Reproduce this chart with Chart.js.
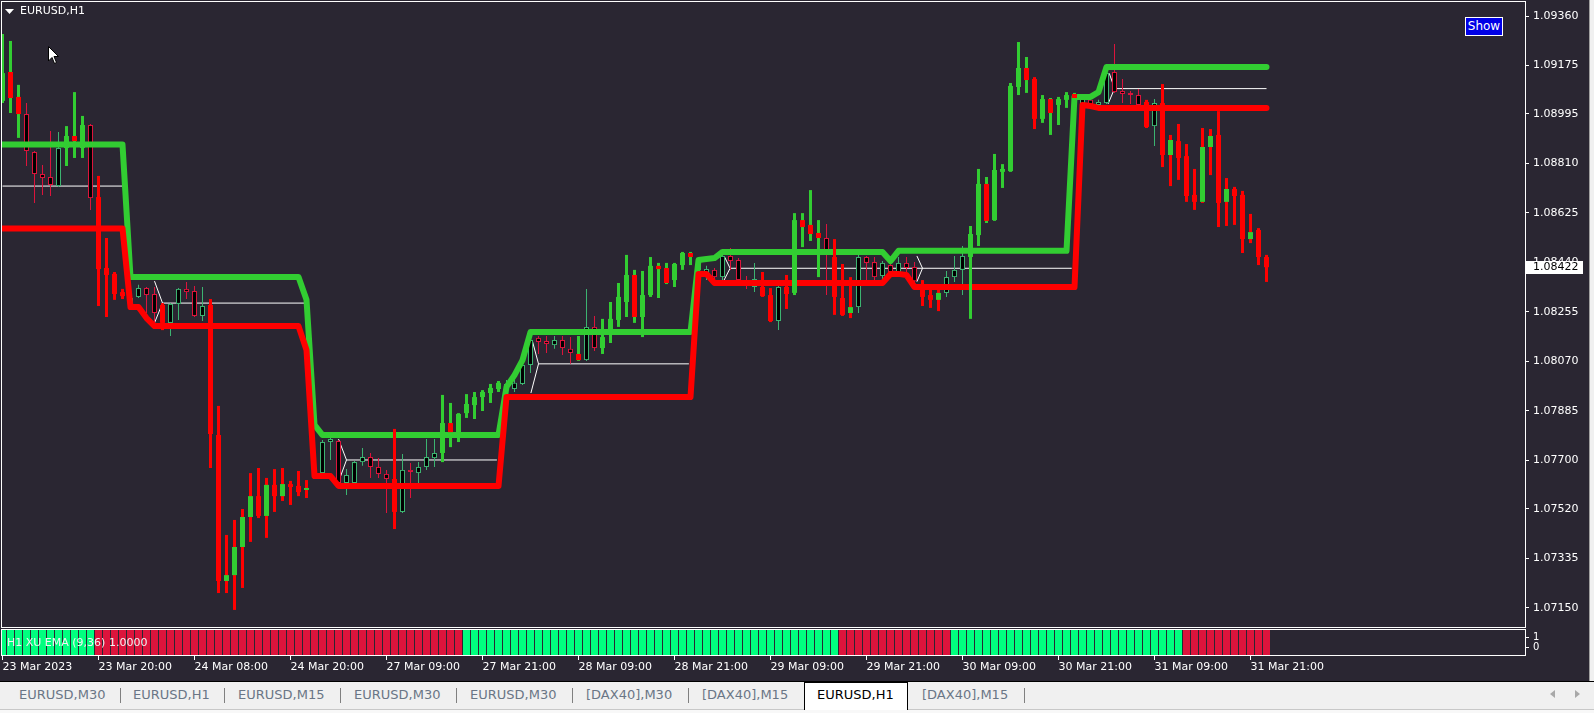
<!DOCTYPE html>
<html><head><meta charset="utf-8">
<script src="https://cdn.jsdelivr.net/npm/chart.js@4.4.1/dist/chart.umd.min.js"></script>
<style>
html,body{margin:0;padding:0;}
body{width:1594px;height:713px;overflow:hidden;background:#f8f8f8;position:relative;font-family:'DejaVu Sans',sans-serif;}
canvas{position:absolute;left:0;}
#c1{top:0;width:1589px;height:629px;}
#c2{top:628px;width:1589px;height:54px;}
#title{position:absolute;left:20px;top:4px;color:#fff;font-size:11px;line-height:14px;}
#tri{position:absolute;left:5px;top:9px;}
#cursor{position:absolute;left:48px;top:46px;}
#show{position:absolute;left:1465px;top:17px;width:36px;height:17px;background:#0000e6;border:1px solid #fff;color:#fff;font-size:12px;line-height:17px;text-align:center;}
#rframe{position:absolute;left:1589px;top:0;width:4px;height:682px;border-left:1px solid #a0a0a0;background:#f0f0f0;}
#blk{position:absolute;left:0;top:681px;width:1594px;height:1px;background:#000;}
#tabs{position:absolute;left:0;top:682px;width:1594px;height:27px;background:#f0f0f0;border-bottom:1px solid #c8c8c8;}
.tab{position:absolute;top:5px;font-size:13px;line-height:16px;color:#6a7686;white-space:nowrap;}
.sep{position:absolute;top:6px;width:1px;height:15px;background:#808080;}
#active{position:absolute;left:804px;top:0;width:102px;height:27px;background:#fff;border:1px solid #000;border-bottom:none;}
.arr{position:absolute;top:8px;}
</style></head><body>
<canvas id="c1" width="1589" height="629"></canvas>
<canvas id="c2" width="1589" height="54"></canvas>
<svg id="tri" width="10" height="6"><polygon points="0,0 9,0 4.5,5" fill="#fff"/></svg>
<div id="title">EURUSD,H1</div>
<svg id="cursor" width="12" height="19"><path d="M0.5,0.5 L0.5,15 L4,11.5 L6.5,17.5 L8.5,16.5 L6,10.5 L10.5,10.5 Z" fill="#fff" stroke="#000" stroke-width="1"/></svg>
<div id="show">Show</div>
<div id="rframe"></div>
<div id="blk"></div>
<div id="tabs">
  <div id="active"></div>
  <div class="tab" style="left:19px">EURUSD,M30</div>
  <div class="sep" style="left:120px"></div>
  <div class="tab" style="left:133px">EURUSD,H1</div>
  <div class="sep" style="left:224px"></div>
  <div class="tab" style="left:238px">EURUSD,M15</div>
  <div class="sep" style="left:340px"></div>
  <div class="tab" style="left:354px">EURUSD,M30</div>
  <div class="sep" style="left:456px"></div>
  <div class="tab" style="left:470px">EURUSD,M30</div>
  <div class="sep" style="left:572px"></div>
  <div class="tab" style="left:586px">[DAX40],M30</div>
  <div class="sep" style="left:688px"></div>
  <div class="tab" style="left:702px">[DAX40],M15</div>
  <div class="tab" style="left:817px;color:#000">EURUSD,H1</div>
  <div class="tab" style="left:922px">[DAX40],M15</div>
  <div class="sep" style="left:1024px"></div>
  <svg class="arr" style="left:1550px" width="6" height="9"><polygon points="5,0 5,8 0,4" fill="#a8a8a8"/></svg>
  <svg class="arr" style="left:1575px" width="6" height="9"><polygon points="0,0 0,8 5,4" fill="#a8a8a8"/></svg>
</div>
<script>
// ---------- DATA ----------
const xTickBars = [0,12,24,36,48,60,72,84,96,108,120,132,144,156];
const xTickLabels = ['23 Mar 2023','23 Mar 20:00','24 Mar 08:00','24 Mar 20:00','27 Mar 09:00','27 Mar 21:00','28 Mar 09:00','28 Mar 21:00','29 Mar 09:00','29 Mar 21:00','30 Mar 09:00','30 Mar 21:00','31 Mar 09:00','31 Mar 21:00'];
const yTicks = [1.09360,1.09175,1.08995,1.08810,1.08625,1.08440,1.08255,1.08070,1.07885,1.07700,1.07520,1.07335,1.07150];

const opens = [1.09043,1.09151,1.09058,1.08994,1.08852,1.08770,1.08759,1.08725,1.08867,1.08912,
1.08867,1.08953,1.08684,1.08419,1.08397,1.08329,1.08285,1.08311,1.08344,1.08322,
1.08281,1.08214,1.08285,1.08341,1.08333,1.08240,1.08281,1.07795,1.07250,1.07272,
1.07377,1.07489,1.07567,1.07493,1.07609,1.07567,1.07612,1.07605,1.07590,1.07642,
1.07653,1.07769,1.07773,1.07616,1.07616,1.07694,1.07713,1.07676,1.07650,1.07631,
1.07508,1.07665,1.07653,1.07676,1.07709,1.07728,1.07840,1.07806,1.07877,1.07907,
1.07937,1.07952,1.07967,1.07963,1.07967,1.07986,1.08057,1.08158,1.08146,1.08131,
1.08150,1.08117,1.08098,1.08075,1.08199,1.08120,1.08191,1.08225,1.08292,1.08393,
1.08236,1.08318,1.08427,1.08419,1.08374,1.08430,1.08475,1.08412,1.08385,1.08412,
1.08385,1.08464,1.08449,1.08370,1.08348,1.08348,1.08318,1.08221,1.08348,1.08326,
1.08598,1.08580,1.08550,1.08531,1.08460,1.08307,1.08251,1.08273,1.08460,1.08441,
1.08389,1.08430,1.08400,1.08438,1.08423,1.08337,1.08318,1.08300,1.08326,1.08385,
1.08412,1.08460,1.08542,1.08733,1.08598,1.08778,1.08781,1.09095,1.09166,1.09125,
1.08976,1.09050,1.09028,1.09047,1.09069,1.09032,1.09047,1.09028,1.09035,1.09151,
1.09080,1.09069,1.09065,1.09039,1.08949,1.09035,1.08841,1.08893,1.08837,1.08692,
1.08666,1.08871,1.08916,1.08666,1.08714,1.08692,1.08527,1.08561,1.08460];
const highs = [1.09293,1.09267,1.09103,1.09035,1.08856,1.08804,1.08931,1.08927,1.08949,1.09076,
1.08987,1.08957,1.08763,1.08531,1.08404,1.08341,1.08322,1.08356,1.08348,1.08348,
1.08288,1.08288,1.08344,1.08367,1.08352,1.08348,1.08303,1.07904,1.07422,1.07478,
1.07519,1.07653,1.07672,1.07635,1.07668,1.07672,1.07624,1.07661,1.07627,1.07683,
1.07777,1.07784,1.07777,1.07668,1.07698,1.07747,1.07728,1.07709,1.07665,1.07818,
1.07724,1.07691,1.07694,1.07780,1.07780,1.07945,1.07915,1.07877,1.07948,1.07956,
1.07963,1.07986,1.07997,1.08001,1.08001,1.08068,1.08161,1.08165,1.08165,1.08165,
1.08165,1.08161,1.08165,1.08341,1.08240,1.08229,1.08292,1.08363,1.08468,1.08412,
1.08408,1.08460,1.08438,1.08438,1.08438,1.08479,1.08479,1.08456,1.08427,1.08419,
1.08471,1.08494,1.08456,1.08389,1.08438,1.08404,1.08344,1.08352,1.08393,1.08624,
1.08624,1.08710,1.08598,1.08583,1.08527,1.08434,1.08385,1.08468,1.08464,1.08460,
1.08445,1.08449,1.08460,1.08460,1.08441,1.08374,1.08356,1.08337,1.08408,1.08464,
1.08501,1.08576,1.08789,1.08759,1.08845,1.08807,1.09110,1.09263,1.09207,1.09132,
1.09065,1.09054,1.09058,1.09076,1.09073,1.09065,1.09054,1.09047,1.09151,1.09256,
1.09125,1.09080,1.09088,1.09047,1.09050,1.09106,1.08916,1.08957,1.08882,1.08789,
1.08942,1.08938,1.09005,1.08755,1.08722,1.08707,1.08621,1.08568,1.08468];
const lows = [1.09035,1.08998,1.08905,1.08800,1.08662,1.08692,1.08688,1.08722,1.08800,1.08830,
1.08830,1.08636,1.08277,1.08236,1.08300,1.08303,1.08270,1.08307,1.08251,1.08214,
1.08187,1.08165,1.08225,1.08303,1.08236,1.08221,1.07672,1.07205,1.07205,1.07142,
1.07224,1.07396,1.07485,1.07411,1.07508,1.07549,1.07534,1.07567,1.07560,1.07635,
1.07642,1.07702,1.07612,1.07571,1.07612,1.07680,1.07635,1.07635,1.07504,1.07444,
1.07504,1.07560,1.07616,1.07665,1.07676,1.07694,1.07750,1.07769,1.07859,1.07855,
1.07885,1.07915,1.07956,1.07952,1.07956,1.07982,1.08027,1.08098,1.08102,1.08117,
1.08094,1.08061,1.08072,1.08072,1.08109,1.08098,1.08139,1.08199,1.08236,1.08214,
1.08161,1.08311,1.08307,1.08359,1.08348,1.08412,1.08430,1.08404,1.08374,1.08374,
1.08374,1.08412,1.08356,1.08341,1.08329,1.08311,1.08217,1.08187,1.08266,1.08318,
1.08497,1.08520,1.08385,1.08318,1.08244,1.08240,1.08232,1.08251,1.08374,1.08374,
1.08374,1.08400,1.08385,1.08404,1.08363,1.08277,1.08270,1.08258,1.08311,1.08367,
1.08318,1.08229,1.08501,1.08587,1.08595,1.08718,1.08778,1.09065,1.09073,1.08938,
1.08961,1.08916,1.08953,1.09017,1.09020,1.09024,1.09024,1.09024,1.09032,1.09073,
1.09035,1.09032,1.09024,1.08942,1.08875,1.08796,1.08725,1.08748,1.08666,1.08636,
1.08662,1.08766,1.08572,1.08576,1.08580,1.08475,1.08512,1.08430,1.08367];
const closes = [1.09147,1.09054,1.08994,1.08856,1.08770,1.08755,1.08729,1.08867,1.08912,1.08893,
1.08953,1.08680,1.08415,1.08393,1.08322,1.08314,1.08307,1.08344,1.08318,1.08251,
1.08214,1.08285,1.08341,1.08329,1.08240,1.08277,1.07799,1.07250,1.07272,1.07377,
1.07489,1.07567,1.07493,1.07609,1.07567,1.07612,1.07601,1.07582,1.07597,1.07665,
1.07769,1.07780,1.07616,1.07646,1.07694,1.07713,1.07676,1.07650,1.07631,1.07508,
1.07665,1.07657,1.07676,1.07713,1.07728,1.07840,1.07806,1.07874,1.07911,1.07937,
1.07956,1.07971,1.07990,1.07986,1.07990,1.08057,1.08150,1.08143,1.08135,1.08150,
1.08120,1.08102,1.08075,1.08199,1.08120,1.08161,1.08229,1.08311,1.08393,1.08236,
1.08318,1.08427,1.08415,1.08363,1.08434,1.08475,1.08460,1.08441,1.08415,1.08385,
1.08464,1.08445,1.08374,1.08352,1.08378,1.08314,1.08221,1.08348,1.08322,1.08598,
1.08572,1.08546,1.08531,1.08482,1.08311,1.08244,1.08273,1.08460,1.08438,1.08385,
1.08438,1.08404,1.08438,1.08419,1.08370,1.08311,1.08300,1.08326,1.08385,1.08412,
1.08464,1.08546,1.08733,1.08595,1.08785,1.08789,1.09099,1.09166,1.09121,1.08976,
1.09050,1.08998,1.09050,1.09065,1.09054,1.09058,1.09028,1.09039,1.09147,1.09076,
1.09069,1.09065,1.09028,1.08946,1.09035,1.08841,1.08897,1.08830,1.08688,1.08666,
1.08871,1.08912,1.08662,1.08714,1.08688,1.08527,1.08553,1.08460,1.08422];
// candle drawing mode per bar: H = hollow candle, G = solid with green range, R = solid with red range
const candleMode = 'GGGHHHHHGG'+'GHRRRRHHHH'+'RHHHHHRRRR'+'RRRRRRRRRH'+'HHHHHHHHHR'+'HHHHHGGGGG'+'GGGHHHHHHH'+'HHGHHGGGGG'+'GGGGGGGHHH'+'HHHHHRRHRG'+'GGGHRRRHHH'+'HHHHHRRRHH'+'HGGGGGGGGR'+'GGGGGHHHHH'+'HHHRHRRRRR'+'RRRRRRRRR';

// upper (green) and lower (red) channel lines: bar index / price
const greenX = [0,15,16,37,38,39,40,62,63,64,65,66,86,87,88,89,90,110,111,112,133,134,136,137,138,158];
const greenY = [1.08880,1.08880,1.08385,1.08385,1.08300,1.07833,1.07795,1.07795,1.07975,1.08019,1.08075,1.08180,1.08180,1.08449,1.08453,1.08456,1.08479,1.08479,1.08445,1.08483,1.08483,1.09058,1.09058,1.09076,1.09170,1.09170];
const redX = [0,15,16,17,18,19,37,38,39,41,42,62,63,86,87,88,89,110,111,112,113,114,134,135,136,137,158];
const redY = [1.08567,1.08567,1.08273,1.08273,1.08232,1.08202,1.08202,1.08113,1.07642,1.07642,1.07605,1.07605,1.07937,1.07937,1.08397,1.08397,1.08363,1.08363,1.08397,1.08397,1.08393,1.08348,1.08348,1.09028,1.09024,1.09017,1.09017];
// thin middle line with chevrons (null = break)
const midX = [0,15,null, 19,20,19,null, 20,37.7,null, 42,43,42,null, 43,61.8,null, 66.2,67,66.05,null, 67,85.8,null, 90.2,90.95,90.2,null, 90.95,133.65,null, 114.3,115,114.3,null, 138.35,139,138.2,null, 139,158];
const midY = [1.08725,1.08725,null, 1.08370,1.08288,1.08214,null, 1.08288,1.08288,null, 1.07780,1.07702,1.07620,null, 1.07702,1.07702,null, 1.08150,1.08061,1.07952,null, 1.08061,1.08061,null, 1.08464,1.08418,1.08374,null, 1.08418,1.08418,null, 1.08464,1.08418,1.08368,null, 1.09146,1.09089,1.09032,null, 1.09089,1.09089];

// XU EMA state per bar (G up / R down), value 1.0000
const stripState = 'GGGGGGGGGGGG'+'RRRRRRRRRRRRRRRRRRRRRRRRRRRRRRRRRRRRRRRRRRRRRR'+'GGGGGGGGGGGGGGGGGGGGGGGGGGGGGGGGGGGGGGGGGGGGGGG'+'RRRRRRRRRRRRRR'+'GGGGGGGGGGGGGGGGGGGGGGGGGGGGG'+'RRRRRRRRRRR';
const stripValue = 1.0;
const indicatorLabel = 'H1 XU EMA (9,36) 1.0000';

// ---------- STYLE ----------
const BG = '#2a2632';
const HG = '#3cb371', HR = '#dc143c', SG = '#32cd32', SR = '#ff0000';
const X_MIN = -0.0625, X_MAX = 190.3125;
const Y_MIN = 1.070782, Y_MAX = 1.094125;
Chart.defaults.font.family = "'DejaVu Sans', sans-serif";
Chart.defaults.font.size = 11;

const N = closes.length;
const hollowWick=[], hollowBody=[], solidWick=[], solidBody=[];
const hwC=[], hbC=[], swC=[], sbC=[];
for (let i=0;i<N;i++){
  const bull = closes[i] >= opens[i];
  const m = candleMode[i];
  if (m === 'H'){
    hollowWick.push({x:i, y:[lows[i], highs[i]]}); hwC.push(bull?HG:HR);
    hollowBody.push({x:i, y:[opens[i], closes[i]]}); hbC.push(bull?HG:HR);
  } else {
    solidWick.push({x:i, y:[lows[i], highs[i]]}); swC.push(m==='G'?SG:SR);
    solidBody.push({x:i, y:[opens[i], closes[i]]}); sbC.push(bull?SG:SR);
  }
}
const greenPts = greenX.map((x,i)=>({x, y:greenY[i]}));
const redPts = redX.map((x,i)=>({x, y:redY[i]}));
const midPts = midX.map((x,i)=>({x: x===null ? (midX[i-1]+0.01) : x, y: midY[i]}));

const barBase = {type:'bar', grouped:false, inflateAmount:0, borderSkipped:false};
const noPad = s => { s.paddingTop = 0; s.paddingBottom = 0; s.paddingLeft = 0; s.paddingRight = 0; };

const frame1 = {
  id:'frame1',
  beforeDraw(c){ const x=c.ctx; x.save(); x.fillStyle=BG; x.fillRect(0,0,c.width,c.height); x.restore(); },
  afterDraw(c){
    const a=c.chartArea, x=c.ctx; x.save();
    x.strokeStyle='#ffffff'; x.lineWidth=1;
    x.strokeRect(a.left-0.5, a.top-0.5, a.right-a.left+1, a.bottom-a.top+1);
    const last = closes[N-1];
    const y = c.scales.y.getPixelForValue(last);
    x.fillStyle='#ffffff'; x.fillRect(a.right+1, Math.round(y)-6, 57, 13);
    x.fillStyle='#000000'; x.font="11px 'DejaVu Sans'"; x.textBaseline='middle'; x.textAlign='left';
    x.fillText(last.toFixed(5), a.right+8, Math.round(y)+0.5);
    x.restore();
  }
};

new Chart(document.getElementById('c1'), {
  type:'bar',
  data:{ datasets:[
    {type:'line', data: midPts, borderColor:'#ffffff', borderWidth:1, pointRadius:0, spanGaps:false, tension:0, order:6},
    Object.assign({}, barBase, {data: hollowWick, backgroundColor: hwC, borderWidth:0, barThickness:1, order:5}),
    Object.assign({}, barBase, {data: hollowBody, backgroundColor:'#000000', borderColor: hbC, borderWidth:1, barThickness:5, minBarLength:2, order:4}),
    {type:'line', data: greenPts, borderColor: SG, borderWidth:6, pointRadius:0, tension:0, borderJoinStyle:'round', borderCapStyle:'round', order:3},
    {type:'line', data: redPts, borderColor: SR, borderWidth:6, pointRadius:0, tension:0, borderJoinStyle:'round', borderCapStyle:'round', order:2},
    Object.assign({}, barBase, {data: solidWick, backgroundColor: swC, borderWidth:0, barThickness:3, order:1}),
    Object.assign({}, barBase, {data: solidBody, backgroundColor: sbC, borderWidth:0, barThickness:5, minBarLength:2, order:0})
  ]},
  options:{
    responsive:false, animation:false, maintainAspectRatio:false,
    layout:{autoPadding:false, padding:{left:2, top:2, right:0, bottom:2}},
    plugins:{legend:{display:false}, tooltip:{enabled:false}},
    scales:{
      x:{type:'linear', display:false, min:X_MIN, max:X_MAX, offset:false, grid:{offset:false}, afterFit:noPad},
      y:{type:'linear', position:'right', min:Y_MIN, max:Y_MAX, beginAtZero:false,
         afterBuildTicks:s=>{ s.ticks = yTicks.map(v=>({value:v})); },
         afterFit:s=>{ s.width = 64; noPad(s); },
         ticks:{color:'#ffffff', padding:4, font:{size:11}, callback:v=>Number(v).toFixed(5)},
         grid:{drawOnChartArea:false, drawTicks:true, tickLength:4, color:'#ffffff'},
         border:{display:true, color:'#ffffff'}}
    }
  },
  plugins:[frame1]
});

const frame2 = {
  id:'frame2',
  beforeDraw(c){ const x=c.ctx; x.save(); x.fillStyle=BG; x.fillRect(0,0,c.width,c.height); x.restore(); },
  afterDraw(c){
    const a=c.chartArea, x=c.ctx; x.save();
    x.strokeStyle='#ffffff'; x.lineWidth=1;
    x.strokeRect(a.left-0.5, a.top-0.5, a.right-a.left+1, a.bottom-a.top+1);
    x.fillStyle='#f4f4f4'; x.font="11px 'DejaVu Sans'"; x.textBaseline='middle'; x.textAlign='left';
    x.fillText(indicatorLabel, a.left+5, (a.top+a.bottom)/2+0.5);
    x.restore();
  }
};

const stripData = [], stripColors = [];
for (let i=0;i<N;i++){ stripData.push({x:i, y:stripValue}); stripColors.push(stripState[i]==='G' ? '#00ff7f' : '#dc143c'); }

new Chart(document.getElementById('c2'), {
  type:'bar',
  data:{ datasets:[
    Object.assign({}, barBase, {data: stripData, backgroundColor: stripColors, borderWidth:0, barThickness:7, yAxisID:'yb'})
  ]},
  options:{
    responsive:false, animation:false, maintainAspectRatio:false,
    layout:{autoPadding:false, padding:{left:2, top:2, right:0, bottom:0}},
    plugins:{legend:{display:false}, tooltip:{enabled:false}},
    scales:{
      x:{type:'linear', position:'bottom', min:X_MIN, max:X_MAX, offset:false,
         afterBuildTicks:s=>{ s.ticks = xTickBars.map(v=>({value:v})); },
         afterFit:s=>{ s.height = 27; noPad(s); },
         ticks:{color:'#ffffff', align:'start', padding:1, autoSkip:false, maxRotation:0, font:{size:11}, callback:(v,i)=>xTickLabels[i]},
         grid:{drawOnChartArea:false, drawTicks:true, tickLength:5, color:'#ffffff', offset:false},
         border:{display:true, color:'#ffffff'}},
      yb:{type:'linear', display:false, min:0, max:1, afterFit:noPad},
      y:{type:'linear', position:'right', min:-0.8, max:1.7,
         afterBuildTicks:s=>{ s.ticks = [{value:0},{value:1}]; },
         afterFit:s=>{ s.width = 64; noPad(s); },
         ticks:{color:'#ffffff', padding:4, font:{size:10}, callback:v=>String(v)},
         grid:{drawOnChartArea:false, drawTicks:true, tickLength:4, color:'#ffffff'},
         border:{display:true, color:'#ffffff'}}
    }
  },
  plugins:[frame2]
});
</script>
</body></html>
